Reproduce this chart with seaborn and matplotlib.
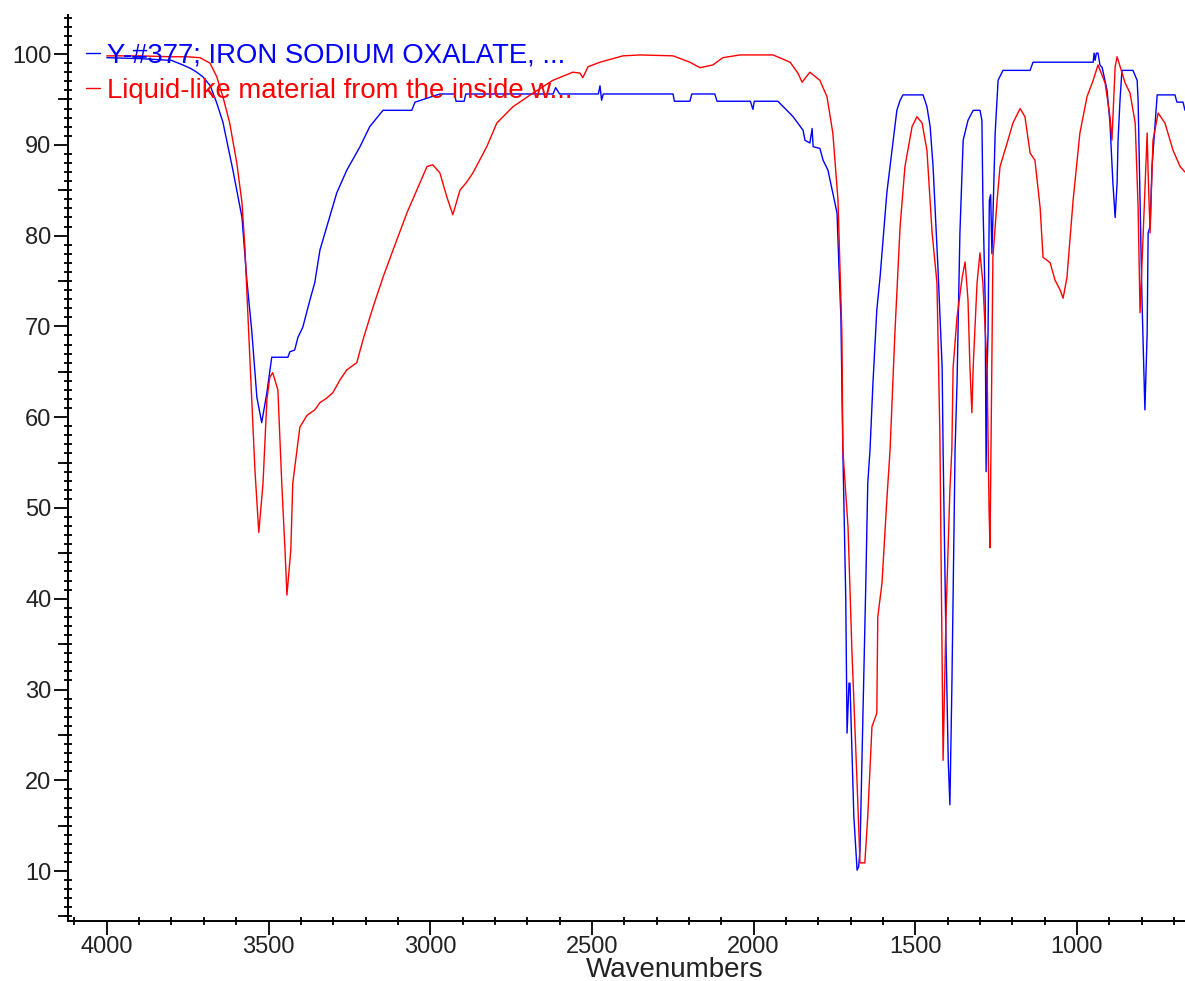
import numpy as np
import pandas as pd
import matplotlib
matplotlib.use("Agg")
import matplotlib.pyplot as plt
import seaborn as sns
from matplotlib.ticker import MultipleLocator, FixedLocator, NullLocator

# ---------------- data ----------------
labels = ["Y-#377; IRON SODIUM OXALATE, ...",
          "Liquid-like material from the inside w..."]

blue_w = [4000, 3900, 3800, 3765, 3740, 3722, 3703, 3680, 3660, 3641, 3610, 3582, 3567, 3552,
          3536, 3521, 3505, 3490, 3440, 3434, 3419, 3409, 3394, 3372, 3357, 3341, 3332, 3289,
          3258, 3217, 3187, 3146, 3057, 3047, 2970, 2925, 2920, 2895, 2890, 2620, 2612, 2600,
          2480, 2475, 2470, 2465, 2249, 2245, 2197, 2191, 2120, 2113, 2010, 2002, 1998, 1925,
          1897, 1878, 1847, 1841, 1826, 1819, 1816, 1795, 1785, 1770, 1755, 1742, 1736, 1730,
          1724, 1715, 1711, 1705, 1702, 1690, 1680, 1675, 1671, 1662, 1653, 1647, 1640, 1631,
          1619, 1609, 1588, 1572, 1557, 1547, 1538, 1476, 1464, 1454, 1445, 1430, 1417, 1414,
          1405, 1398, 1393, 1387, 1377, 1371, 1362, 1352, 1337, 1321, 1300, 1294, 1291, 1284,
          1281, 1278, 1275, 1271, 1267, 1263, 1253, 1244, 1229, 1145, 1136, 950, 947, 944,
          940, 935, 929, 922, 907, 898, 889, 882, 876, 873, 867, 861, 827, 814, 811, 805,
          799, 790, 783, 780, 774, 768, 752, 697, 691, 672, 666]
blue_v = [99.6, 99.5, 99.3, 98.8, 98.4, 98.0, 97.5, 96.5, 94.6, 92.5, 87.2, 82.0, 75.1, 69.6,
          62.2, 59.4, 62.7, 66.6, 66.6, 67.2, 67.4, 68.8, 69.9, 72.9, 74.8, 78.4, 79.5, 84.7,
          87.2, 89.8, 92.0, 93.8, 93.8, 94.7, 95.6, 95.6, 94.8, 94.8, 95.6, 95.6, 96.3, 95.6,
          95.6, 96.5, 94.9, 95.6, 95.6, 94.8, 94.8, 95.6, 95.6, 94.8, 94.8, 93.9, 94.8, 94.8,
          93.8, 93.1, 91.6, 90.5, 90.2, 91.8, 89.8, 89.6, 88.3, 87.2, 84.7, 82.5, 76.5, 71.0,
          56.4, 40.0, 25.2, 30.7, 30.7, 16.0, 10.1, 10.5, 12.3, 27.0, 41.7, 52.7, 56.4, 63.7,
          71.8, 75.4, 84.7, 89.4, 93.8, 94.9, 95.5, 95.5, 94.2, 92.0, 87.6, 76.5, 65.5, 56.4,
          35.0, 22.0, 17.3, 30.0, 56.4, 63.7, 80.3, 90.5, 92.7, 93.8, 93.8, 92.7, 83.9, 72.9,
          54.0, 65.0, 69.3, 83.9, 84.5, 78.0, 91.3, 97.1, 98.2, 98.2, 99.1, 99.1, 100.1, 99.3,
          100.1, 100.1, 98.8, 98.5, 96.0, 92.4, 85.8, 82.0, 85.8, 90.5, 94.9, 98.2, 98.2, 97.1, 94.9, 83.9,
          72.9, 60.8, 69.3, 80.3, 81.0, 87.6, 95.5, 95.5, 94.7, 94.7, 93.8]

red_w = [4000, 3900, 3800, 3753, 3712, 3681, 3660, 3641, 3620, 3598, 3582, 3573, 3564, 3552,
         3542, 3530, 3517, 3505, 3496, 3487, 3471, 3459, 3449, 3443, 3431, 3425, 3412, 3403,
         3381, 3357, 3341, 3320, 3301, 3279, 3258, 3239, 3227, 3208, 3177, 3146, 3115, 3072,
         3010, 2992, 2970, 2948, 2930, 2908, 2887, 2868, 2825, 2794, 2744, 2682, 2621, 2559,
         2537, 2528, 2512, 2475, 2404, 2351, 2249, 2197, 2166, 2126, 2095, 2042, 1940, 1887,
         1863, 1850, 1826, 1795, 1773, 1755, 1739, 1733, 1727, 1724, 1708, 1696, 1680, 1671,
         1656, 1647, 1634, 1619, 1616, 1603, 1588, 1578, 1563, 1547, 1532, 1510, 1495, 1479,
         1464, 1448, 1433, 1430, 1424, 1414, 1405, 1393, 1387, 1383, 1371, 1355, 1346, 1337,
         1331, 1325, 1321, 1309, 1300, 1291, 1278, 1272, 1269, 1260, 1247, 1238, 1216, 1198,
         1176, 1161, 1145, 1130, 1114, 1105, 1093, 1083, 1068, 1052, 1043, 1031, 1012, 991,
         969, 950, 935, 913, 898, 892, 882, 876, 851, 836, 820, 811, 805, 796, 783, 780,
         774, 765, 749, 728, 703, 681, 666]
red_v = [99.8, 99.8, 99.7, 99.7, 99.6, 99.0, 97.5, 95.3, 92.4, 88.0, 83.6, 78.7, 71.5, 62.2,
         54.2, 47.3, 52.7, 61.9, 64.4, 64.9, 63.0, 52.7, 45.4, 40.4, 45.4, 52.7, 56.4, 58.9,
         60.2, 60.8, 61.6, 62.1, 62.7, 64.1, 65.2, 65.7, 66.0, 68.5, 72.1, 75.4, 78.4, 82.5,
         87.6, 87.8, 86.9, 84.2, 82.3, 85.0, 85.9, 86.9, 89.8, 92.4, 94.2, 95.7, 97.1, 98.0,
         97.9, 97.4, 98.6, 99.1, 99.8, 99.9, 99.8, 99.1, 98.5, 98.8, 99.6, 99.9, 99.9, 99.1,
         97.9, 96.9, 98.0, 97.1, 95.3, 91.3, 83.9, 76.5, 69.3, 56.4, 47.9, 34.3, 19.7, 10.9,
         10.9, 16.0, 25.9, 27.4, 38.0, 41.7, 50.9, 56.4, 69.3, 81.0, 87.6, 92.0, 93.1, 92.4,
         89.4, 80.3, 74.8, 69.3, 58.2, 22.2, 38.0, 52.0, 56.4, 65.5, 71.0, 75.4, 77.1, 72.9,
         65.5, 60.5, 65.5, 74.8, 78.1, 74.8, 65.5, 50.0, 45.6, 77.6, 83.9, 87.6, 90.2, 92.4,
         94.0, 93.1, 89.1, 88.3, 83.1, 77.6, 77.3, 77.0, 75.1, 74.0, 73.1, 75.4, 83.9, 91.3,
         95.3, 97.1, 98.8, 96.8, 93.1, 90.5, 98.6, 99.7, 96.8, 95.7, 92.4, 83.1, 71.5, 79.5, 91.3, 86.9,
         80.3, 90.5, 93.5, 92.4, 89.4, 87.6, 87.0]

x_major = list(range(1000, 4001, 500))
y_major = list(range(10, 101, 10))
y_mid = list(range(5, 100, 10))

# ---------------- figure ----------------
sns.set_theme(style="ticks")
plt.rcParams["font.family"] = ["Liberation Sans", "DejaVu Sans"]

W, H = 1185, 981
fig = plt.figure(figsize=(W / 100, H / 100), dpi=100)
fig.patch.set_facecolor("white")
ax = fig.add_axes([68 / W, 60 / H, 1 - 68 / W, (921 - 15) / H])
ax.set_facecolor("white")

sns.lineplot(x=blue_w, y=blue_v, ax=ax, color="#0000ff", lw=1.0, sort=False,
             estimator=None, label=labels[0])
sns.lineplot(x=red_w, y=red_v, ax=ax, color="#ff0000", lw=1.0, sort=False,
             estimator=None, label=labels[1])

ax.set_xlim(4120, 666)
ax.set_ylim(4.5, 104.3)

for s in ["top", "right"]:
    ax.spines[s].set_visible(False)
for s in ["left", "bottom"]:
    ax.spines[s].set_linewidth(1.4)
    ax.spines[s].set_color("black")

ax.xaxis.set_major_locator(FixedLocator(x_major))
ax.xaxis.set_minor_locator(MultipleLocator(100))
ax.yaxis.set_major_locator(FixedLocator(y_major))
ax.yaxis.set_minor_locator(MultipleLocator(1))

ax.tick_params(axis="x", which="major", direction="out", length=10, width=1.3,
               labelsize=17, pad=1, colors="black", labelcolor="#222222")
ax.tick_params(axis="x", which="minor", direction="inout", length=6, width=1.3, colors="black")
ax.tick_params(axis="y", which="major", direction="out", length=10, width=1.3,
               labelsize=17, pad=2, colors="black", labelcolor="#222222")
ax.tick_params(axis="y", which="minor", direction="inout", length=6, width=1.3, colors="black")

sec = ax.secondary_yaxis("left")
sec.yaxis.set_major_locator(FixedLocator(y_mid))
sec.yaxis.set_minor_locator(NullLocator())
sec.tick_params(axis="y", which="major", direction="out", length=7, width=1.3,
                labelleft=False, colors="black")
sec.spines["left"].set_linewidth(1.4)

ax.set_xlabel("Wavenumbers", fontsize=20, color="#222222")
ax.xaxis.set_label_coords(0.543, -0.040)
ax.set_ylabel("")

leg = ax.legend(loc="upper left", bbox_to_anchor=(86 / W, 1 - 43 / H),
                bbox_transform=fig.transFigure, frameon=False, fontsize=19.8,
                handlelength=0.5, handletextpad=0.28, borderpad=0, borderaxespad=0,
                labelspacing=0.33)
for txt, c in zip(leg.get_texts(), ["#0000ff", "#ff0000"]):
    txt.set_color(c)
for ln in leg.get_lines():
    ln.set_linewidth(1.0)

fig.savefig("out.png", dpi=100, facecolor="white")
